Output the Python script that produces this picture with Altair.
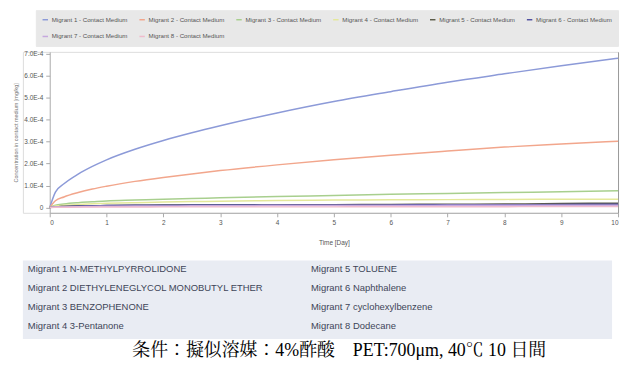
import altair as alt
import pandas as pd

# ---------------- data ----------------
days = [0, 0.1, 0.25, 0.5, 0.75, 1, 1.5, 2, 2.5, 3, 4, 5, 6, 7, 8, 9, 10]

# concentrations in units of 1E-4 mg/kg
m1 = [0, 0.70, 1.08, 1.52, 1.87, 2.17, 2.65, 3.05, 3.40, 3.72, 4.30, 4.82, 5.27, 5.70, 6.08, 6.45, 6.79]
m2 = [0, 0.31, 0.48, 0.68, 0.84, 0.97, 1.19, 1.37, 1.53, 1.68, 1.94, 2.17, 2.38, 2.57, 2.75, 2.89, 3.02]
m3 = [0, 0.10, 0.16, 0.22, 0.26, 0.30, 0.34, 0.38, 0.41, 0.44, 0.50, 0.55, 0.60, 0.64, 0.68, 0.72, 0.76]
m4 = [0, 0.07, 0.10, 0.14, 0.17, 0.19, 0.22, 0.25, 0.27, 0.29, 0.32, 0.34, 0.35, 0.36, 0.37, 0.38, 0.38]
m5 = [0, 0.03, 0.05, 0.07, 0.08, 0.09, 0.10, 0.11, 0.11, 0.12, 0.12, 0.13, 0.14, 0.15, 0.16, 0.18, 0.20]
m6 = [0, 0.03, 0.05, 0.07, 0.08, 0.09, 0.10, 0.10, 0.11, 0.11, 0.11, 0.12, 0.12, 0.13, 0.13, 0.14, 0.15]
m7 = [0, 0.02, 0.03, 0.04, 0.05, 0.06, 0.07, 0.07, 0.08, 0.08, 0.09, 0.09, 0.09, 0.10, 0.10, 0.10, 0.10]
m8 = [0, 0.01, 0.01, 0.02, 0.02, 0.02, 0.02, 0.03, 0.03, 0.03, 0.03, 0.03, 0.04, 0.04, 0.04, 0.05, 0.05]

series_names = [
    "Migrant 1 - Contact Medium", "Migrant 2 - Contact Medium",
    "Migrant 3 - Contact Medium", "Migrant 4 - Contact Medium",
    "Migrant 5 - Contact Medium", "Migrant 6 - Contact Medium",
    "Migrant 7 - Contact Medium", "Migrant 8 - Contact Medium",
]
series_colors = ["#8c9ad8", "#f2a68c", "#a8cf8e", "#e4e89a",
                 "#5c5c4a", "#5252a0", "#c6a8de", "#f0bccd"]

y_ticks = [0, 1e-4, 2e-4, 3e-4, 4e-4, 5e-4, 6e-4, 7e-4]
x_ticks = [0, 1, 2, 3, 4, 5, 6, 7, 8, 9, 10]

table_col = [0, 0, 0, 0, 1, 1, 1, 1]
table_row = [0, 1, 2, 3, 0, 1, 2, 3]
table_text = [
    "Migrant 1 N-METHYLPYRROLIDONE",
    "Migrant 2 DIETHYLENEGLYCOL MONOBUTYL ETHER",
    "Migrant 3 BENZOPHENONE",
    "Migrant 4 3-Pentanone",
    "Migrant 5 TOLUENE",
    "Migrant 6 Naphthalene",
    "Migrant 7 cyclohexylbenzene",
    "Migrant 8 Dodecane",
]

caption = "条件：擬似溶媒：4%酢酸　PET:700μm, 40℃ 10 日間"

# ---------------- build tables ----------------
rows = []
for name, vals in zip(series_names, [m1, m2, m3, m4, m5, m6, m7, m8]):
    for t, v in zip(days, vals):
        rows.append({"Time": t, "Conc": v * 1e-4, "Series": name})
df = pd.DataFrame(rows)

tdf = pd.DataFrame({"col": table_col, "row": table_row, "label": table_text})

y_dom = [-0.24e-4, 7.08e-4]
x_rng = [27, 599]          # plot area inside the (wider) view
sans = "Liberation Sans"

x_enc = alt.X(
    "Time:Q",
    scale=alt.Scale(domain=[0, 10], nice=False, range=x_rng),
    axis=alt.Axis(values=x_ticks, format="d", title="Time [Day]", grid=False,
                  labelFontSize=6.5, titleFontSize=6.5, labelColor="#555",
                  titleColor="#555", titleFontWeight="normal",
                  tickSize=4, labelPadding=3, titlePadding=13,
                  domainColor="#aaa", tickColor="#aaa", labelFont=sans,
                  titleFont=sans),
)

lines = alt.Chart(df).mark_line(strokeWidth=1.5, interpolate="monotone").encode(
    x=x_enc,
    y=alt.Y(
        "Conc:Q",
        scale=alt.Scale(domain=y_dom, nice=False, zero=False),
        axis=alt.Axis(
            values=y_ticks, offset=-27,
            labelExpr="datum.value == 0 ? '0' : format(datum.value * 10000, '.1f') + 'E-4'",
            title="Concentration in contact medium [mg/kg]",
            grid=False, labelFontSize=6.5, titleFontSize=5.5,
            labelColor="#555", titleColor="#777", titleFontWeight="normal",
            tickSize=4, labelPadding=3, titlePadding=5,
            domainColor="#aaa", tickColor="#aaa", labelFont=sans, titleFont=sans,
        ),
    ),
    color=alt.Color(
        "Series:N",
        scale=alt.Scale(domain=series_names, range=series_colors),
        legend=alt.Legend(
            title=None, orient="none", legendX=13, legendY=-42,
            direction="horizontal", columns=6, symbolType="stroke",
            symbolSize=30, symbolStrokeWidth=1.5, labelFontSize=6.2,
            labelColor="#555", labelFont=sans, labelOffset=3,
            columnPadding=7.5, rowPadding=10, padding=6,
            fillColor="#e8e8e8", strokeColor="#e8e8e8",
        ),
    ),
)

right_edge = alt.Chart(df).mark_line(opacity=0).encode(
    x=alt.X("Time:Q", scale=alt.Scale(domain=[0, 10], nice=False, range=x_rng)),
    y=alt.Y("Conc:Q", scale=alt.Scale(domain=y_dom, nice=False, zero=False),
            axis=alt.Axis(orient="right", title=None, labels=False, ticks=False,
                          grid=False, domainColor="#999")),
)

main = alt.layer(lines, right_edge).resolve_scale(y="independent").properties(
    width=599, height=162
)

table = alt.Chart(tdf).mark_text(
    align="left", baseline="middle", fontSize=9.5, color="#3e4558", font=sans
).encode(
    x=alt.X("col:Q", scale=alt.Scale(domain=[0, 1], range=[5, 290]), axis=None),
    y=alt.Y("row:Q", scale=alt.Scale(domain=[0, 3], range=[9, 66]), axis=None),
    text="label:N",
).properties(width=593, height=79,
             view=alt.ViewBackground(fill="#e9ecf3", stroke=None))

chart = alt.vconcat(main, table, spacing=14, bounds="full").properties(
    padding={"left": 5, "top": 0, "right": 0, "bottom": 0},
    title=alt.TitleParams(
        text=caption, orient="bottom", anchor="middle", fontSize=18,
        font="Liberation Serif, Noto Serif CJK JP, Noto Sans CJK JP",
        fontWeight="normal", color="#000", offset=3, dx=22,
    ),
).configure_view(stroke=None).configure(background="white")

chart.save("out.html", embed_options={"renderer": "svg", "actions": False})
